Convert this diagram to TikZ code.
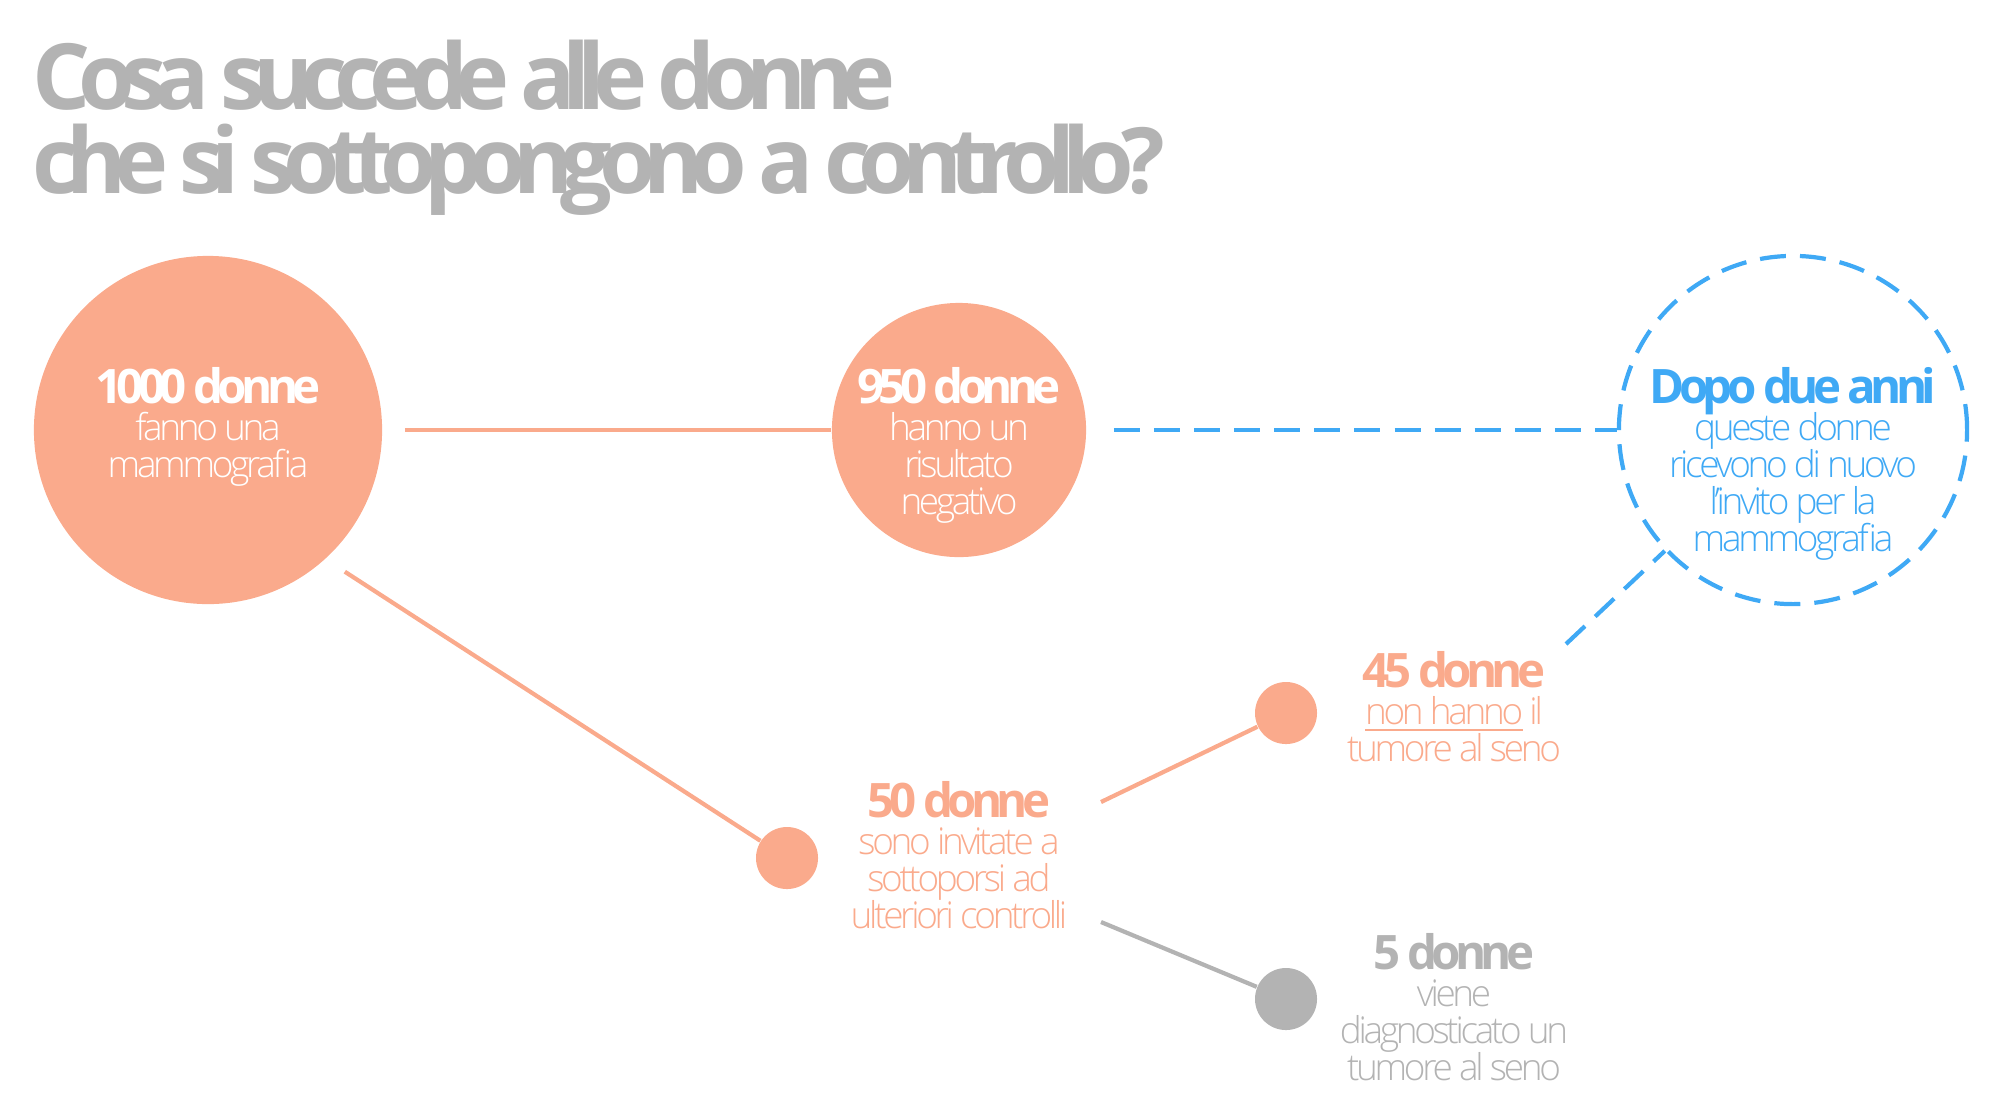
\documentclass[tikz,border=0pt]{standalone}
\usepackage{fontspec}
\setmainfont{Open Sans}
\newfontfamily\titlefont{Open Sans}[LetterSpace=-14]
\newfontfamily\headfont{Open Sans}[LetterSpace=-12]
\IfFontExistsTF{Open Sans Light}
  {\newfontfamily\bodyfont{Open Sans Light}[LetterSpace=-9]}
  {\newfontfamily\bodyfont{Open Sans}[LetterSpace=-10]}
\usetikzlibrary{calc}

\definecolor{salmon}{HTML}{FAAA8C}
\definecolor{greytxt}{HTML}{B3B3B3}
\definecolor{skyblue}{HTML}{3FA9F5}

\newcommand{\headtxt}[1]{{\fontsize{13.5}{10.5}\selectfont\headfont\bfseries #1}}
\newcommand{\infofont}{\fontsize{10.5}{10.5}\selectfont\bodyfont\lineskiplimit=-20pt\relax}

\tikzset{
  disc/.style = {circle, fill = salmon, inner sep = 0pt, minimum size = #1},
  dot/.style = {circle, fill = #1, inner sep = 0pt, minimum size = 0.62cm},
  info/.style = {align = center, inner sep = 0pt, anchor = north, text = #1, font = \infofont},
  link/.style = {line width = 1.2pt, draw = #1},
  dashlink/.style = {line width = 1.2pt, draw = skyblue, dash pattern = on 7.4pt off 4pt}
}

\begin{document}
\begin{tikzpicture}[x = 0.01cm, y = -0.01cm]
\useasboundingbox (0,0) rectangle (2000,1105);

% title
\node[anchor = north west, inner sep = 0pt, align = left, text = greytxt,
  font = \fontsize{26}{23.9}\selectfont\titlefont\bfseries] (title) at (32,39)
  {Cosa succede alle donne\\che si sottopongono a controllo?};

% circles
\node[disc = 3.48cm, outer sep = 6.5pt] (all) at (208,430) {};
\node[disc = 2.54cm] (neg) at (959,430) {};
\node[circle, draw = skyblue, dashlink, minimum size = 3.48cm, inner sep = 0pt] (again) at (1793,430) {};

% dots
\node[dot = salmon] (recall) at (787,858) {};
\node[dot = salmon] (healthy) at (1286,713) {};
\node[dot = greytxt] (tumour) at (1286,999) {};

% texts
\node[info = white] (allT) at (208,367) {\headtxt{1000 donne}\\fanno una\\mammografia};
\node[info = white] (negT) at (959,367) {\headtxt{950 donne}\\hanno un\\risultato\\negativo};
\node[info = skyblue] (againT) at (1793,367) {\headtxt{Dopo due anni}\\queste donne\\ricevono di nuovo\\l’invito per la\\mammografia};
\node[info = salmon] (recallT) at (959,781) {\headtxt{50 donne}\\sono invitate a\\sottoporsi ad\\ulteriori controlli};
\node[info = salmon] (healthyT) at (1454,651) {\headtxt{45 donne}\\\underline{non hanno} il\\tumore al seno};
\node[info = greytxt] (tumourT) at (1454,933) {\headtxt{5 donne}\\viene\\diagnosticato un\\tumore al seno};

% connectors
\coordinate (up) at (1101,802);
\coordinate (down) at (1101,922);
\coordinate (back) at (1566,644);
\draw[link = salmon] (all) -- (neg);
\draw[dashlink, shorten <= 7.7pt] (neg) -- (again);
\draw[link = salmon] (all.-46) -- (recall);
\draw[link = salmon] (up) -- (healthy);
\draw[link = greytxt] (down) -- (tumour);
\draw[dashlink] (back) -- (again);
\end{tikzpicture}
\end{document}
